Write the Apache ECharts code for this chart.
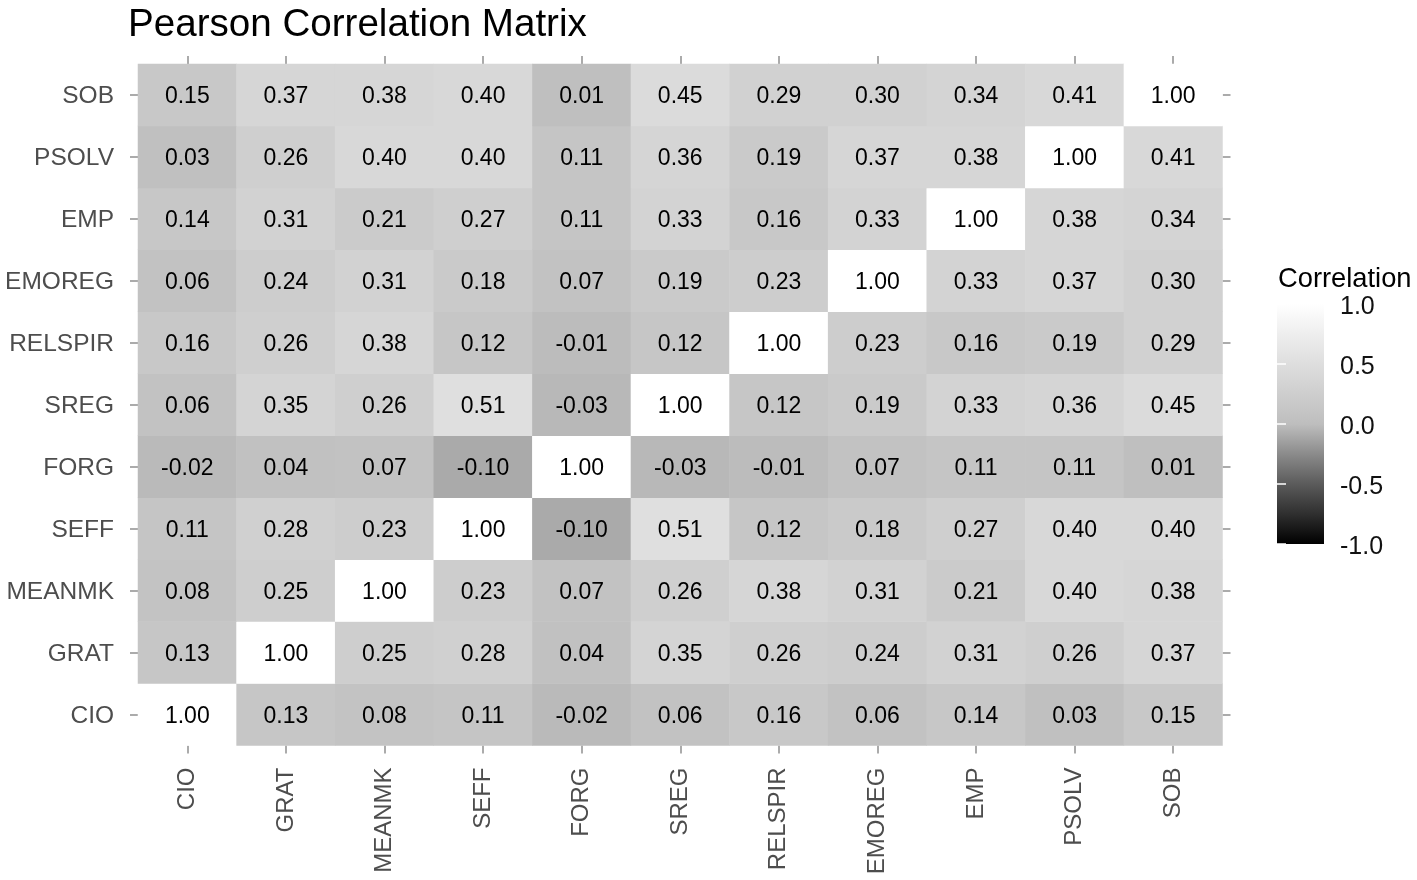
<!DOCTYPE html>
<html>
<head>
<meta charset="utf-8">
<script src="https://cdn.jsdelivr.net/npm/echarts@6/dist/echarts.min.js"></script>
<style>
html,body{margin:0;padding:0;background:#fff;}
#chart{width:1417px;height:880px;}
</style>
</head>
<body>
<div id="chart"></div>
<script>
// Variables (x axis left->right, y axis bottom->top)
const variables = ['CIO','GRAT','MEANMK','SEFF','FORG','SREG','RELSPIR','EMOREG','EMP','PSOLV','SOB'];

// Correlation rows (one per y-axis variable), columns in `variables` order
const rowCIO     = [1.00, 0.13, 0.08, 0.11, -0.02, 0.06, 0.16, 0.06, 0.14, 0.03, 0.15];
const rowGRAT    = [0.13, 1.00, 0.25, 0.28, 0.04, 0.35, 0.26, 0.24, 0.31, 0.26, 0.37];
const rowMEANMK  = [0.08, 0.25, 1.00, 0.23, 0.07, 0.26, 0.38, 0.31, 0.21, 0.40, 0.38];
const rowSEFF    = [0.11, 0.28, 0.23, 1.00, -0.10, 0.51, 0.12, 0.18, 0.27, 0.40, 0.40];
const rowFORG    = [-0.02, 0.04, 0.07, -0.10, 1.00, -0.03, -0.01, 0.07, 0.11, 0.11, 0.01];
const rowSREG    = [0.06, 0.35, 0.26, 0.51, -0.03, 1.00, 0.12, 0.19, 0.33, 0.36, 0.45];
const rowRELSPIR = [0.16, 0.26, 0.38, 0.12, -0.01, 0.12, 1.00, 0.23, 0.16, 0.19, 0.29];
const rowEMOREG  = [0.06, 0.24, 0.31, 0.18, 0.07, 0.19, 0.23, 1.00, 0.33, 0.37, 0.30];
const rowEMP     = [0.14, 0.31, 0.21, 0.27, 0.11, 0.33, 0.16, 0.33, 1.00, 0.38, 0.34];
const rowPSOLV   = [0.03, 0.26, 0.40, 0.40, 0.11, 0.36, 0.19, 0.37, 0.38, 1.00, 0.41];
const rowSOB     = [0.15, 0.37, 0.38, 0.40, 0.01, 0.45, 0.29, 0.30, 0.34, 0.41, 1.00];

// Legend scale
const legendMin = -1;
const legendMax = 1;
const legendInterval = 0.5;

const matrix = [rowCIO, rowGRAT, rowMEANMK, rowSEFF, rowFORG, rowSREG, rowRELSPIR, rowEMOREG, rowEMP, rowPSOLV, rowSOB];

// grey ramp black -> grey(0) -> white, approximating Lab interpolation
const greyLevels = [0, 47, 91, 139, 190, 206, 222, 238, 255];
const rampColors = greyLevels.map(g => 'rgb(' + g + ',' + g + ',' + g + ')');

const heatData = [];
matrix.forEach((row, yi) => row.forEach((v, xi) => heatData.push([xi, yi, v])));

const FONT = '"Liberation Sans", Arial, Helvetica, sans-serif';
const tickStyle = { show: true, alignWithLabel: true, length: 8, lineStyle: { color: '#ababab', width: 2 } };

const chart = echarts.init(document.getElementById('chart'));
chart.setOption({
  backgroundColor: '#ffffff',
  animation: false,
  textStyle: { fontFamily: FONT },
  title: [
    { text: 'Pearson Correlation Matrix', left: 128, top: 6, padding: 0,
      textStyle: { fontSize: 38.6, fontWeight: 'normal', color: '#000', fontFamily: FONT } },
    { text: 'Correlation', left: 1278, top: 266, padding: 0,
      textStyle: { fontSize: 27.3, fontWeight: 'normal', color: '#000', fontFamily: FONT } }
  ],
  grid: [
    { left: 138, top: 64, width: 1084.5, height: 681.5 },
    { left: 1277, top: 304, width: 47, height: 240 }
  ],
  xAxis: [
    { type: 'category', data: variables, gridIndex: 0, position: 'bottom',
      axisLine: { show: false }, axisTick: tickStyle, splitLine: { show: false },
      axisLabel: { rotate: 90, fontSize: 24, color: '#4d4d4d', margin: 22, fontFamily: FONT } },
    { type: 'category', data: variables, gridIndex: 0, position: 'top',
      axisLine: { show: false }, axisTick: tickStyle, axisLabel: { show: false }, splitLine: { show: false } },
    { type: 'value', gridIndex: 1, min: 0, max: 1, show: false }
  ],
  yAxis: [
    { type: 'category', data: variables, gridIndex: 0, position: 'left',
      axisLine: { show: false }, axisTick: tickStyle, splitLine: { show: false },
      axisLabel: { fontSize: 24.5, color: '#4d4d4d', margin: 24, fontFamily: FONT,
        formatter: v => '{a|' + v + '}',
        rich: { a: { fontSize: 24.5, color: '#4d4d4d', fontFamily: FONT, padding: [3, 0, 0, 0] } } } },
    { type: 'category', data: variables, gridIndex: 0, position: 'right',
      axisLine: { show: false }, axisTick: tickStyle, axisLabel: { show: false }, splitLine: { show: false } },
    { type: 'value', gridIndex: 1, min: legendMin, max: legendMax, interval: legendInterval, position: 'right', z: 10,
      axisLine: { show: false }, splitLine: { show: false },
      axisTick: { show: true, inside: true, length: 9, lineStyle: { color: '#ffffff', width: 1.5 } },
      axisLabel: { margin: 16, fontFamily: FONT,
        formatter: v => '{a|' + v.toFixed(1) + '}',
        rich: { a: { fontSize: 25, color: '#111', fontFamily: FONT, padding: [7, 0, 0, 0] } } } },
    { type: 'value', gridIndex: 1, min: legendMin, max: legendMax, interval: legendInterval, position: 'left', z: 10,
      axisLine: { show: false }, splitLine: { show: false }, axisLabel: { show: false },
      axisTick: { show: true, inside: true, length: 9, lineStyle: { color: '#ffffff', width: 1.5 } } }
  ],
  visualMap: {
    show: false, type: 'continuous', min: legendMin, max: legendMax, seriesIndex: 0,
    inRange: { color: rampColors }
  },
  series: [
    { type: 'heatmap', xAxisIndex: 0, yAxisIndex: 0, data: heatData,
      itemStyle: { borderWidth: 0 },
      label: { show: true, fontSize: 23, color: '#000', fontFamily: FONT, offset: [0, 2],
        formatter: p => p.value[2].toFixed(2) },
      emphasis: { disabled: true } },
    { type: 'custom', xAxisIndex: 2, yAxisIndex: 2, silent: true,
      data: [[0, legendMin, 1, legendMax]],
      renderItem: function (params, api) {
        const p1 = api.coord([api.value(0), api.value(1)]);
        const p2 = api.coord([api.value(2), api.value(3)]);
        const stops = rampColors.map((c, i) => ({ offset: i / (rampColors.length - 1), color: c }));
        return {
          type: 'rect',
          shape: { x: p1[0], y: p2[1], width: p2[0] - p1[0], height: p1[1] - p2[1] },
          style: { fill: { type: 'linear', x: 0, y: 1, x2: 0, y2: 0, colorStops: stops } }
        };
      } }
  ]
});
</script>
</body>
</html>
